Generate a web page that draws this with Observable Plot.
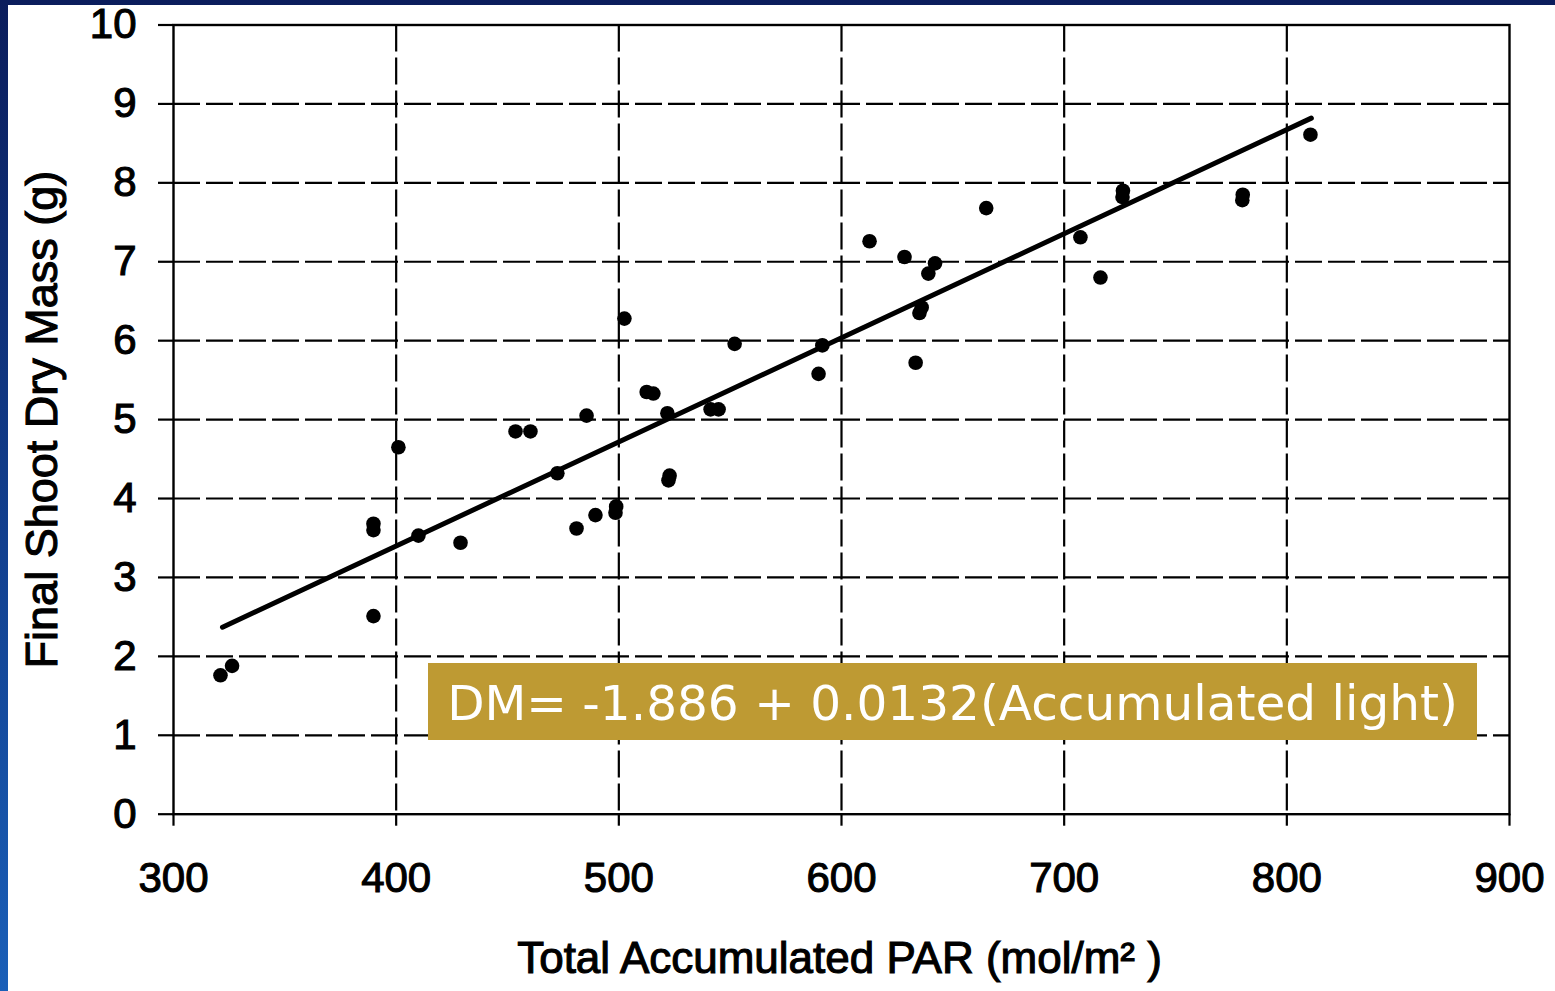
<!DOCTYPE html>
<html>
<head>
<meta charset="utf-8">
<script src="https://cdn.jsdelivr.net/npm/d3@7"></script>
<script src="https://cdn.jsdelivr.net/npm/@observablehq/plot@0.6"></script>
<style>
  html, body { margin: 0; padding: 0; }
  body {
    width: 1555px; height: 991px; overflow: hidden; position: relative;
    background: linear-gradient(to bottom, #0b1d5c 0%, #12408f 55%, #1a5fb8 100%);
  }
  #panel { position: absolute; left: 8px; top: 5px; width: 1547px; height: 986px; background: #fff; }
  #eq {
    position: absolute; left: 428px; top: 663px; width: 1049px; height: 77px;
    background: #be9a33; color: #fff; font-family: "DejaVu Sans", Verdana, sans-serif;
    font-size: 48.5px; line-height: 80px; text-align: center; white-space: nowrap;
  }
</style>
</head>
<body>
<div id="panel"></div>
<div id="eq">DM= -1.886 + 0.0132(Accumulated light)</div>
<script>
const parX  = [321.1, 326.3, 389.8, 389.8, 389.8, 401, 410, 428.9, 453.6, 460.3, 472.4, 485.5, 481, 489.5, 498.5, 498.8, 502.5, 512.5, 515.5, 521.8, 522.3, 522.8, 541.2, 544.8, 552, 589.7, 591.4, 612.6, 628.3, 639, 642, 635, 636, 633.3, 665, 707.3, 716.3, 726.2, 726.4, 780, 780.2, 810.6];
const massY = [1.76, 1.88, 3.60, 3.68, 2.51, 4.65, 3.53, 3.44, 4.85, 4.85, 4.32, 5.05, 3.62, 3.79, 3.82, 3.90, 6.28, 5.35, 5.33, 5.08, 4.23, 4.29, 5.13, 5.13, 5.96, 5.58, 5.94, 7.26, 7.06, 6.85, 6.98, 6.35, 6.42, 5.72, 7.68, 7.31, 6.80, 7.82, 7.90, 7.78, 7.85, 8.61];
const fitX = [322, 811];
const fitY = [2.37, 8.82];
const xTicks = [300, 400, 500, 600, 700, 800, 900];
const yTicks = [0, 1, 2, 3, 4, 5, 6, 7, 8, 9, 10];
const xGrid = [400, 500, 600, 700, 800];
const yGrid = [1, 2, 3, 4, 5, 6, 7, 8, 9];
const xTitle = "Total Accumulated PAR (mol/m\u00B2 )";
const yTitle = "Final Shoot Dry Mass (g)";

const points = parX.map((x, i) => ({x, y: massY[i]}));
const fit = fitX.map((x, i) => ({x, y: fitY[i]}));

const chart = Plot.plot({
  width: 1547,
  height: 986,
  marginLeft: 165,
  marginRight: 46,
  marginTop: 19.5,
  marginBottom: 177.3,
  style: { fontFamily: "'Liberation Sans', Arial, sans-serif", background: "transparent", overflow: "visible" },
  x: { domain: [300, 900] },
  y: { domain: [0, 10] },
  marks: [
    Plot.ruleX(xGrid, { stroke: "#000", strokeWidth: 2.2, strokeDasharray: "27,6" }),
    Plot.ruleY(yGrid, { stroke: "#000", strokeWidth: 2.2, strokeDasharray: "27,6" }),
    Plot.frame({ stroke: "#000", strokeWidth: 2.4 }),
    Plot.axisX({ ticks: xTicks, tickSize: 12, tickPadding: 36, fontSize: 42, strokeWidth: 2.2, label: null, fill: "#000", stroke: "#000" }),
    Plot.axisY({ ticks: yTicks, tickSize: 15, tickPadding: 22, fontSize: 42, strokeWidth: 2.2, label: null, fill: "#000", stroke: "#000" }),
    Plot.line(fit, { x: "x", y: "y", stroke: "#000", strokeWidth: 5, strokeLinecap: "round" }),
    Plot.dot(points, { x: "x", y: "y", r: 7.3, fill: "#000", stroke: null }),
    Plot.text([xTitle], { frameAnchor: "bottom", dy: 145, dx: -2, text: d => d, fontSize: 44, lineAnchor: "middle", textAnchor: "middle", fill: "#000" }),
    Plot.text([yTitle], { frameAnchor: "left", dx: -131, text: d => d, fontSize: 45, rotate: -90, lineAnchor: "middle", textAnchor: "middle", fill: "#000" })
  ]
});
d3.select(chart).selectAll("text")
  .attr("stroke", "#000").attr("stroke-width", 1.1).attr("paint-order", "stroke");
chart.style.position = "absolute";
chart.style.left = "8px";
chart.style.top = "5px";
document.body.insertBefore(chart, document.getElementById("eq"));
</script>
</body>
</html>
